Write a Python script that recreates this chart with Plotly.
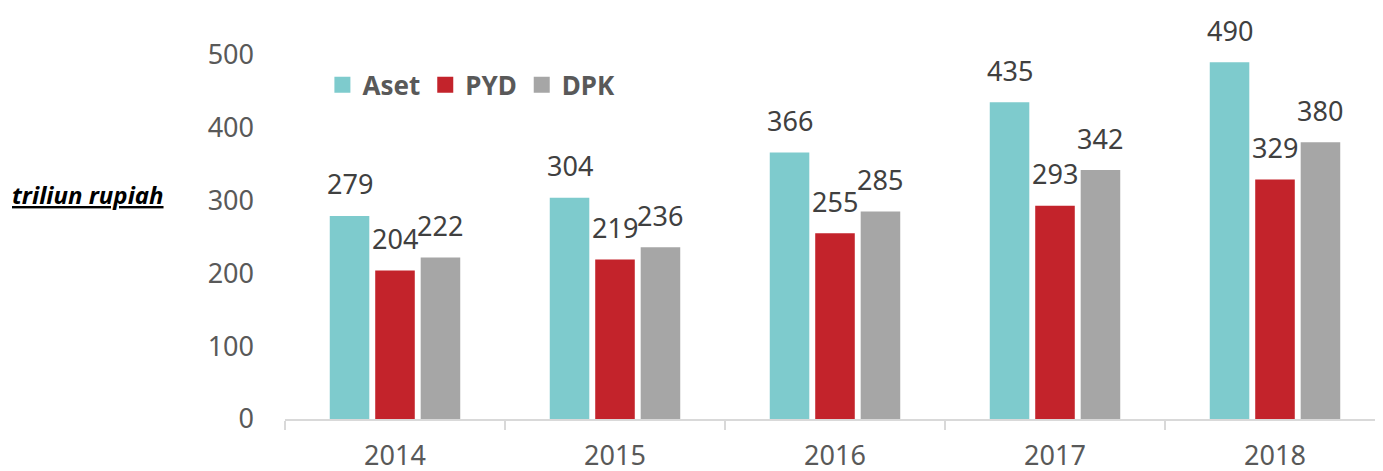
import plotly.graph_objects as go

# data
years = ["2014", "2015", "2016", "2017", "2018"]
aset = [279, 304, 366, 435, 490]
pyd = [204, 219, 255, 293, 329]
dpk = [222, 236, 285, 342, 380]

series = [
    ("Aset", aset, "#7ECBCD"),
    ("PYD", pyd, "#C3232B"),
    ("DPK", dpk, "#A6A6A6"),
]

FONT = "Noto Sans"
BARGAP = 0.38
slot = (1 - BARGAP) / len(series)

fig = go.Figure()
for name, vals, col in series:
    fig.add_trace(go.Bar(
        x=years, y=vals, name=name, showlegend=False,
        marker=dict(color=col, line=dict(width=0)),
        cliponaxis=False,
    ))
# legend entries with bigger square swatches
for name, vals, col in series:
    fig.add_trace(go.Scatter(
        x=[None], y=[None], name=name, mode="markers",
        marker=dict(symbol="square", size=18, color=col),
    ))

# value labels above bars
for k, (name, vals, col) in enumerate(series):
    off = (k - 1) * slot
    for i, v in enumerate(vals):
        fig.add_annotation(
            x=i + off, y=v, xref="x", yref="y",
            text=str(v), showarrow=False,
            yanchor="middle", yshift=32,
            font=dict(family=FONT, size=27, color="#404040"),
        )

# y axis title
fig.add_annotation(
    x=-0.179, y=0.6175, xref="paper", yref="paper",
    xanchor="center", yanchor="middle",
    text="<b><i><u>triliun rupiah</u></i></b>", showarrow=False,
    font=dict(family=FONT, size=24, color="#000000"),
)

fig.update_layout(
    width=1383, height=471,
    margin=dict(l=277, r=6, t=47, b=58),
    paper_bgcolor="white", plot_bgcolor="white",
    barmode="group", bargap=BARGAP, bargroupgap=0.13,
    font=dict(family=FONT, color="#595959"),
    showlegend=True,
    legend=dict(
        orientation="h", x=0.034, y=0.918, xanchor="left", yanchor="middle",
        font=dict(family=FONT, size=26, color="#595959", weight="bold"),
        bgcolor="rgba(0,0,0,0)", itemwidth=30, tracegroupgap=0,
    ),
    xaxis=dict(
        type="category",
        showgrid=False, zeroline=False,
        showline=True, linecolor="#D9D9D9", linewidth=2,
        ticks="outside", tickson="boundaries", ticklen=9,
        tickcolor="#D9D9D9", tickwidth=2, ticklabelstandoff=12,
        tickfont=dict(family=FONT, size=27, color="#595959"),
    ),
    yaxis=dict(
        range=[0, 500], dtick=100,
        showgrid=False, zeroline=False, showline=False,
        ticks="", ticklabelstandoff=30,
        tickfont=dict(family=FONT, size=27, color="#595959"),
    ),
)

fig.write_html("out.html")
